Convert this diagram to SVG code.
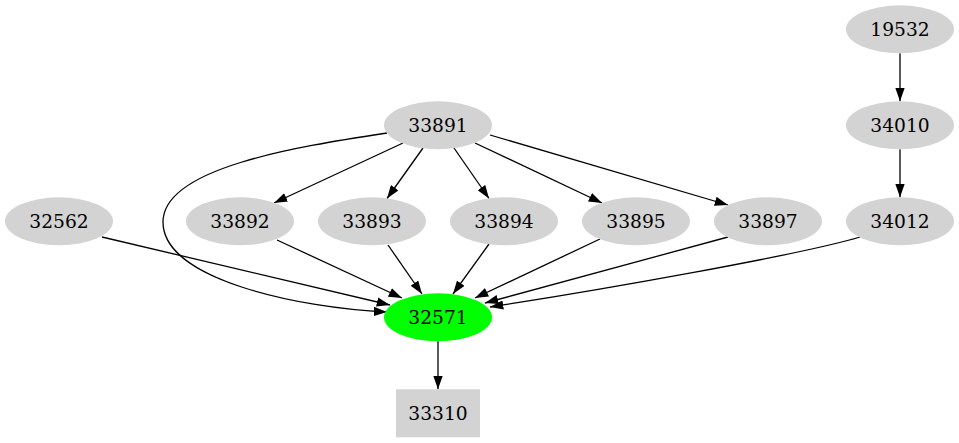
<svg xmlns="http://www.w3.org/2000/svg" width="959" height="443" viewBox="0 0 959 443">
<defs>
<style>
.n ellipse, .n rect { fill: #d3d3d3; stroke: none; }
.n text { font-family: "DejaVu Serif", "Liberation Serif", serif; font-size: 18.67px; text-anchor: middle; fill: #000; }
.e path { fill: none; stroke: #000; stroke-width: 1.3; marker-end: url(#arr); }
</style>
<marker id="arr" viewBox="0 0 10 7" refX="10" refY="3.5" markerWidth="13.3" markerHeight="9.3" markerUnits="userSpaceOnUse" orient="auto">
<path d="M0,0 L10,3.5 L0,7 Z" fill="#000" stroke="none"/>
</marker>
</defs>
<rect width="959" height="443" fill="#fff"/>
<g id="edges" class="e">
<path d="M900,53.3 L900,101.3"/>
<path d="M900,149.3 L900,197.3"/>
<path d="M403,143 L274,203"/>
<path d="M423,148 L387,198.5"/>
<path d="M454,148 L489,198.5"/>
<path d="M475,143 L602,203"/>
<path d="M490,135 L728,205"/>
<path d="M387,133 C295,147 163,168 163,222 C163,280 300,308 387,312"/>
<path d="M102,237 L390,305"/>
<path d="M277,240 L402,298"/>
<path d="M388,245 L422,294"/>
<path d="M489,244 L453,294"/>
<path d="M600,239 L475,298"/>
<path d="M728,237 L485,303"/>
<path d="M860,237 C800,255 600,290 490,307"/>
<path d="M438,341.3 L438,389.3"/>
</g>
<g id="n19532" class="n"><ellipse cx="900" cy="29.3" rx="54" ry="24"/><text x="900" y="35.8">19532</text></g>
<g id="n34010" class="n"><ellipse cx="900" cy="125.3" rx="54" ry="24"/><text x="900" y="131.8">34010</text></g>
<g id="n34012" class="n"><ellipse cx="900" cy="221.3" rx="54" ry="24"/><text x="900" y="227.8">34012</text></g>
<g id="n33891" class="n"><ellipse cx="438" cy="125.3" rx="54" ry="24"/><text x="438" y="131.8">33891</text></g>
<g id="n32562" class="n"><ellipse cx="59" cy="221.3" rx="54" ry="24"/><text x="59" y="227.8">32562</text></g>
<g id="n33892" class="n"><ellipse cx="240" cy="221.3" rx="54" ry="24"/><text x="240" y="227.8">33892</text></g>
<g id="n33893" class="n"><ellipse cx="372" cy="221.3" rx="54" ry="24"/><text x="372" y="227.8">33893</text></g>
<g id="n33894" class="n"><ellipse cx="504" cy="221.3" rx="54" ry="24"/><text x="504" y="227.8">33894</text></g>
<g id="n33895" class="n"><ellipse cx="636" cy="221.3" rx="54" ry="24"/><text x="636" y="227.8">33895</text></g>
<g id="n33897" class="n"><ellipse cx="768" cy="221.3" rx="54" ry="24"/><text x="768" y="227.8">33897</text></g>
<g id="n32571" class="n"><ellipse cx="438" cy="317.3" rx="54" ry="24" style="fill:#00ff00"/><text x="438" y="323.8">32571</text></g>
<g id="n33310" class="n"><rect x="396" y="389.3" width="84" height="48"/><text x="438" y="419.8">33310</text></g>
</svg>
